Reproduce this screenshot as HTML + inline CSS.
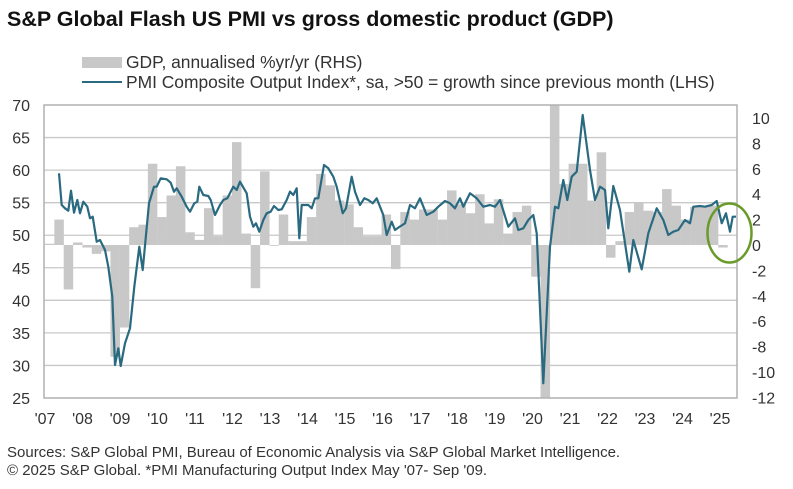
<!DOCTYPE html>
<html><head><meta charset="utf-8"><style>
body{margin:0;background:#fff;width:793px;height:484px;overflow:hidden;font-family:"Liberation Sans",Arial,sans-serif}
</style></head><body>
<svg width="793" height="484" viewBox="0 0 793 484" xmlns="http://www.w3.org/2000/svg" font-family="Liberation Sans, Arial, sans-serif">
<text x="7" y="26" font-size="21.5" font-weight="bold" fill="#111">S&amp;P Global Flash US PMI vs gross domestic product (GDP)</text>
<rect x="82" y="57" width="40" height="11" fill="#c8c8c8"/>
<text x="126" y="68" font-size="17.4" fill="#333">GDP, annualised %yr/yr (RHS)</text>
<line x1="82" y1="82" x2="122" y2="82" stroke="#2a6a80" stroke-width="2"/>
<text x="126" y="88" font-size="17.4" fill="#333">PMI Composite Output Index*, sa, &gt;50 = growth since previous month (LHS)</text>
<g id="grid" stroke="#c8c8c8" stroke-width="1.3"></g>
<g id="bars" fill="#c8c8c8"></g>
<rect x="44" y="105" width="693" height="293" fill="none" stroke="#b0b0b0" stroke-width="1.5"/>
<polyline id="pmi" fill="none" stroke="#2a6a80" stroke-width="2.2" stroke-linejoin="round"/>
<ellipse cx="729.5" cy="233" rx="22" ry="29.5" fill="none" stroke="#6a9a2a" stroke-width="2.5"/>
<g id="lab" font-size="16" fill="#333"></g>
<text x="7" y="457" font-size="15" fill="#333">Sources: S&amp;P Global PMI, Bureau of Economic Analysis via S&amp;P Global Market Intelligence.</text>
<text x="7" y="475" font-size="15" fill="#333">© 2025 S&amp;P Global.  *PMI Manufacturing Output Index May '07- Sep '09.</text>
</svg>
<script>
var NS="http://www.w3.org/2000/svg";
function el(p,t,a,txt){var e=document.createElementNS(NS,t);for(var k in a)e.setAttribute(k,a[k]);if(txt!=null)e.textContent=txt;document.getElementById(p).appendChild(e);}
for(var v=65;v>=30;v-=5){var y=105+(70-v)*6.511;el("grid","line",{x1:44,x2:737,y1:y,y2:y});}
for(var v=70;v>=25;v-=5){var y=105+(70-v)*6.511;el("lab","text",{x:30,y:y+6,"text-anchor":"end"},v);}
for(var v=10;v>=-12;v-=2){var y=245-v*12.7;el("lab","text",{x:752,y:y+6},v);}
for(var k=0;k<19;k++){var s=String(7+k);if(s.length<2)s="0"+s;el("lab","text",{x:45+k*37.5,y:424,"text-anchor":"middle"},"'"+s);}
var g=[0.1,2.0,-3.5,0.2,-0.2,-0.7,-0.5,-8.8,-6.5,1.4,1.6,6.4,2.2,3.9,6.2,1.0,0.4,2.9,0.7,3.9,8.1,0.9,-3.4,5.8,0,2.4,0.3,0.3,2.2,5.6,4.7,3.5,3.2,1.4,0.7,0.7,2.4,-1.9,
2.6,2.0,2.8,2.8,2.0,4.3,3.2,2.5,4.0,1.7,3.6,0.9,2.6,3.1,-2.5,-12,11,4.8,6.4,6.4,3.5,7.3,-1.0,0.3,2.6,3.3,2.7,2.6,4.4,3.1,2.0,3.0,3.0,3.1,-0.2];
for(var i=0;i<g.length;i++){var x=45+i*9.35,y0=245,y1=245-g[i]*12.7;if(y1<105)y1=105;if(y1>398)y1=398;
el("bars","rect",{x:x,y:Math.min(y0,y1),width:9.5,height:Math.max(0.8,Math.abs(y1-y0))});}
var p=[[59,173.3],[61.7,205],[65,208.3],[68.3,210.7],[71,190.7],[74,212.7],[77.3,200],[80,213.3],[83.3,201.7],[87.3,206.7],[90,218.3],[92.7,216.7],[96.7,241.7],[100,240],[105,250],[108.3,266.7],[112.3,296.7],[115,365],[118.3,348.3],[120.7,366],[125,343.3],[130,328.3],[134.3,286.7],[139.3,246.7],[142.7,270],[149,203.3],[154,186.7],[156.7,186.7],[160.7,178.3],[166.7,179.3],[170.7,182.7],[174,191.7],[176.7,188.3],[181.7,196.7],[186.7,206.7],[190,211.7],[194.3,203.3],[197.3,201.7],[199.3,186.7],[203.3,195],[208.3,196],[210.7,200],[215,215],[220,205],[223.3,200],[227.3,198.3],[233.3,186.7],[236.7,190],[240,181.7],[246.7,193.3],[250,216.7],[253.3,226.7],[256,223.3],[259.3,231.7],[263.3,220],[266.7,213.3],[270.7,211.7],[274,206],[278.3,210],[281.7,209.3],[286.7,200],[290,191.7],[293.3,195],[296.7,188.3],[299.3,238.3],[301.7,205],[308.3,205],[311.7,208.3],[315,198.3],[318.3,198.3],[324,165],[328.3,168.3],[333.3,176.7],[336.7,186.7],[342.7,213.3],[346,208.3],[351.7,176.7],[355,191.7],[360,205],[364.3,198.3],[368.3,200],[372.7,203.3],[376.7,198.3],[383.3,215],[386.7,235],[391.7,221.7],[395,230],[400,226.5],[405,223.3],[410,205],[415,208.3],[420,198.3],[426.7,215],[433.3,211.7],[438.3,206.7],[445,201],[450,203.3],[455,208.3],[460,198.3],[463.3,206.7],[470,193.3],[476.7,198.3],[483.3,206.7],[490,205],[495,206.7],[500,200],[508.3,226.7],[515,218.3],[518.3,230],[523.3,228.3],[528.3,220],[533.3,215],[536.7,233.3],[543.3,383.3],[550,246.7],[555,206.7],[558.3,208.3],[563.3,180],[567.3,200],[571.7,176.7],[576.7,171.7],[582.7,115],[590,170],[595,200],[600,186.7],[605,190],[608.3,228.3],[613.3,186],[620,210],[629.3,271.7],[633.3,240],[641.7,269.3],[648.3,233.3],[656.7,208.3],[663.3,220],[668.3,235],[673.3,231.7],[678.3,230],[685,220],[690,223.3],[693.3,206.7],[700,206],[705,206.7],[711.7,205],[716.7,201],[721.7,223.3],[726,213.3],[730,231.7],[732.7,216.7],[736,216.7]];
document.getElementById("pmi").setAttribute("points",p.map(function(a){return a.join(",")}).join(" "));
</script>
</body></html>
